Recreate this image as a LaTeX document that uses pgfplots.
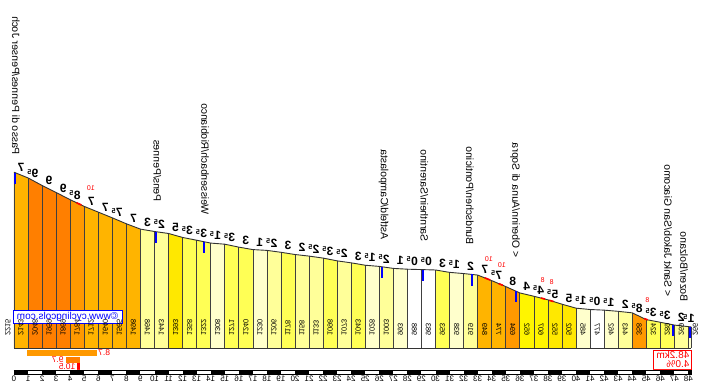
\documentclass[border=0pt]{standalone}
\usepackage{pgfplots}
\pgfplotsset{compat=1.18}
\usepackage{pgfplotstable}
\usepackage{fontspec}
\setmainfont{Liberation Sans}
\definecolor{c0}{HTML}{FFFFFF}
\definecolor{c1}{HTML}{FFFFCC}
\definecolor{c2}{HTML}{FFFF99}
\definecolor{c3}{HTML}{FFFF55}
\definecolor{c4}{HTML}{FFF500}
\definecolor{c5}{HTML}{FFE800}
\definecolor{c7}{HTML}{FFB400}
\definecolor{c8}{HTML}{FF9900}
\definecolor{c9}{HTML}{FF7F00}
\definecolor{mkblue}{HTML}{0000FF}
\definecolor{mkred}{HTML}{FF0000}
\tikzset{
  gl/.style={xscale=-1,anchor=base,inner sep=0pt,font=\fontsize{12}{12}\selectfont\bfseries},
  pn/.style={rotate=90,yscale=-1,anchor=west,inner sep=0pt,font=\fontsize{10.4}{10.4}\selectfont},
  rn/.style={xscale=-1,inner sep=0pt,text=mkred,font=\fontsize{7}{7}\selectfont},
  tl/.style={xscale=-1,anchor=north,inner sep=0pt,font=\fontsize{8}{8}\selectfont}}
\newcommand\kb[5]{\addplot[fill=#5, draw=none] coordinates {(#1,0) (#1,#3) (#2,#4) (#2,0)};}
\newcommand\h[1]{#1\rlap{\kern0.4pt\raisebox{3.6pt}{\fontsize{7}{7}\selectfont\bfseries 5}}}
\pgfplotstableread{
x E
0 2215
1 2143
2 2048
3 1959
4 1869
5 1784
6 1712
7 1640
8 1565
9 1498
10 1468
11 1443
12 1393
13 1358
14 1322
15 1308
16 1271
17 1240
18 1230
19 1206
20 1178
21 1158
22 1133
23 1098
24 1073
25 1043
26 1028
27 1003
28 993
29 988
30 983
31 953
32 938
33 919
34 849
35 774
36 694
37 652
38 607
39 552
40 502
41 485
42 477
43 462
44 443
45 358
46 324
47 289
48 269
48.2 266
}\profile
\pgfplotstableread{
x y lab
-0.43 151 2215
0.5 151 2143
1.5 151 2048
2.5 151 1959
3.5 151 1869
4.5 151 1784
5.5 151 1712
6.5 151 1640
7.5 151 1565
8.5 151 1498
9.5 151 1468
10.5 151 1443
11.5 151 1393
12.5 151 1358
13.5 151 1322
14.5 151 1308
15.5 151 1271
16.5 151 1240
17.5 151 1230
18.5 151 1206
19.5 151 1178
20.5 151 1158
21.5 151 1133
22.5 151 1098
23.5 151 1073
24.5 151 1043
25.5 151 1028
26.5 151 1003
27.5 151 993
28.5 151 988
29.5 151 983
30.5 151 953
31.5 151 938
32.5 151 919
33.5 151 849
34.5 151 774
35.5 151 694
36.5 151 652
37.5 151 607
38.5 151 552
39.5 151 502
40.5 151 485
41.5 151 477
42.5 151 462
43.5 151 443
44.5 151 358
45.5 151 324
46.5 151 289
47.5 151 269
48.5 151 266
}\elev
\begin{document}
\begin{tikzpicture}
\begin{axis}[width=705pt,height=388pt,scale only axis,
  xmin=-0.9964,xmax=49.18,ymin=-504,ymax=4385,hide axis,clip=false]
% bars
\kb{0}{1}{2215}{2143}{c7}
\kb{1}{2}{2143}{2048}{c9}
\kb{2}{3}{2048}{1959}{c9}
\kb{3}{4}{1959}{1869}{c9}
\kb{4}{5}{1869}{1784}{c8}
\kb{5}{6}{1784}{1712}{c7}
\kb{6}{7}{1712}{1640}{c7}
\kb{7}{8}{1640}{1565}{c7}
\kb{8}{9}{1565}{1498}{c7}
\kb{9}{10}{1498}{1468}{c2}
\kb{10}{11}{1468}{1443}{c2}
\kb{11}{12}{1443}{1393}{c5}
\kb{12}{13}{1393}{1358}{c3}
\kb{13}{14}{1358}{1322}{c3}
\kb{14}{15}{1322}{1308}{c1}
\kb{15}{16}{1308}{1271}{c3}
\kb{16}{17}{1271}{1240}{c3}
\kb{17}{18}{1240}{1230}{c1}
\kb{18}{19}{1230}{1206}{c2}
\kb{19}{20}{1206}{1178}{c3}
\kb{20}{21}{1178}{1158}{c2}
\kb{21}{22}{1158}{1133}{c2}
\kb{22}{23}{1133}{1098}{c3}
\kb{23}{24}{1098}{1073}{c2}
\kb{24}{25}{1073}{1043}{c3}
\kb{25}{26}{1043}{1028}{c1}
\kb{26}{27}{1028}{1003}{c2}
\kb{27}{28}{1003}{993}{c1}
\kb{28}{29}{993}{988}{c0}
\kb{29}{30}{988}{983}{c0}
\kb{30}{31}{983}{953}{c3}
\kb{31}{32}{953}{938}{c1}
\kb{32}{33}{938}{919}{c2}
\kb{33}{34}{919}{849}{c7}
\kb{34}{35}{849}{774}{c7}
\kb{35}{36}{774}{694}{c8}
\kb{36}{37}{694}{652}{c4}
\kb{37}{38}{652}{607}{c4}
\kb{38}{39}{607}{552}{c5}
\kb{39}{40}{552}{502}{c5}
\kb{40}{41}{502}{485}{c1}
\kb{41}{42}{485}{477}{c0}
\kb{42}{43}{477}{462}{c1}
\kb{43}{44}{462}{443}{c2}
\kb{44}{45}{443}{358}{c8}
\kb{45}{46}{358}{324}{c3}
\kb{46}{47}{324}{289}{c3}
\kb{47}{48}{289}{269}{c2}
\kb{48}{48.2}{269}{266}{c1}
% separators, base, profile
\addplot[ycomb, black!75, line width=0.7pt] table[x=x,y=E] {\profile};
\addplot[black!80, line width=0.8pt] coordinates {(0,0) (48.2,0)};
\addplot[black!80, line width=0.9pt] table[x=x,y=E] {\profile};
% steep spots on the profile
\addplot[mkred, line width=1.6pt] coordinates {(4.45,1831) (4.8,1801)};
\addplot[mkred, line width=1.6pt] coordinates {(33.5,884) (33.9,856)};
\addplot[mkred, line width=1.6pt] coordinates {(34.5,811) (34.8,789)};
\addplot[mkred, line width=1.6pt] coordinates {(37.5,630) (37.8,616)};
\addplot[mkred, line width=1.6pt] coordinates {(38.1,601) (38.4,585)};
\addplot[mkred, line width=1.6pt] coordinates {(44.85,371) (45.1,355)};
% place markers
\addplot[mkblue, line width=2pt] coordinates {(0.07,2211) (0.07,2072)};
\addplot[mkblue, line width=2pt] coordinates {(10.1,1465) (10.1,1325)};
\addplot[mkblue, line width=2pt] coordinates {(13.5,1340) (13.5,1200)};
\addplot[mkblue, line width=2pt] coordinates {(26.2,1023) (26.2,883)};
\addplot[mkblue, line width=2pt] coordinates {(29.1,987) (29.1,847)};
\addplot[mkblue, line width=2pt] coordinates {(32.6,927) (32.6,787)};
\addplot[mkblue, line width=2pt] coordinates {(35.7,718) (35.7,578)};
\addplot[mkblue, line width=2pt] coordinates {(46.9,292) (46.9,152)};
\addplot[mkblue, line width=2pt] coordinates {(48.1,267) (48.1,127)};
% elevation labels
\addplot[draw=none, mark=none, nodes near coords, point meta=explicit symbolic,
  nodes near coords style={rotate=90,yscale=-1,anchor=west,inner sep=0pt,font=\fontsize{7.4}{7.4}\selectfont}]
  table[x=x,y=y,meta=lab] {\elev};
% gradient labels
\node[gl] at (axis cs:0.5,2229) {7};
\node[gl] at (axis cs:1.5,2146) {\h{9}};
\node[gl] at (axis cs:2.5,2054) {9};
\node[gl] at (axis cs:3.5,1964) {9};
\node[gl] at (axis cs:4.5,1877) {\h{8}};
\node[gl] at (axis cs:5.5,1798) {7};
\node[gl] at (axis cs:6.5,1726) {7};
\node[gl] at (axis cs:7.5,1653) {\h{7}};
\node[gl] at (axis cs:8.5,1582) {7};
\node[gl] at (axis cs:9.5,1533) {3};
\node[gl] at (axis cs:10.5,1506) {\h{2}};
\node[gl] at (axis cs:11.5,1468) {5};
\node[gl] at (axis cs:12.5,1426) {\h{3}};
\node[gl] at (axis cs:13.5,1390) {\h{3}};
\node[gl] at (axis cs:14.5,1365) {\h{1}};
\node[gl] at (axis cs:15.5,1340) {\h{3}};
\node[gl] at (axis cs:16.5,1306) {3};
\node[gl] at (axis cs:17.5,1285) {1};
\node[gl] at (axis cs:18.5,1268) {\h{2}};
\node[gl] at (axis cs:19.5,1242) {3};
\node[gl] at (axis cs:20.5,1218) {2};
\node[gl] at (axis cs:21.5,1196) {\h{2}};
\node[gl] at (axis cs:22.5,1166) {\h{3}};
\node[gl] at (axis cs:23.5,1136) {\h{2}};
\node[gl] at (axis cs:24.5,1108) {3};
\node[gl] at (axis cs:25.5,1086) {\h{1}};
\node[gl] at (axis cs:26.5,1066) {\h{2}};
\node[gl] at (axis cs:27.5,1048) {1};
\node[gl] at (axis cs:28.5,1041) {\h{0}};
\node[gl] at (axis cs:29.5,1036) {\h{0}};
\node[gl] at (axis cs:30.5,1018) {3};
\node[gl] at (axis cs:31.5,996) {\h{1}};
\node[gl] at (axis cs:32.5,979) {2};
\node[gl] at (axis cs:33.5,934) {7};
\node[gl] at (axis cs:34.5,862) {\h{7}};
\node[gl] at (axis cs:35.5,784) {8};
\node[gl] at (axis cs:36.5,723) {4};
\node[gl] at (axis cs:37.5,680) {\h{4}};
\node[gl] at (axis cs:38.5,630) {\h{5}};
\node[gl] at (axis cs:39.5,577) {5};
\node[gl] at (axis cs:40.5,544) {\h{1}};
\node[gl] at (axis cs:41.5,531) {\h{0}};
\node[gl] at (axis cs:42.5,520) {\h{1}};
\node[gl] at (axis cs:43.5,503) {2};
\node[gl] at (axis cs:44.5,451) {\h{8}};
\node[gl] at (axis cs:45.5,391) {\h{3}};
\node[gl] at (axis cs:46.5,357) {\h{3}};
\node[gl] at (axis cs:47.5,329) {2};
\node[gl] at (axis cs:48.2,318) {\h{1}};
% max gradients
\node[rn] at (axis cs:5.48,2016) {10};
\node[rn] at (axis cs:33.8,1115) {10};
\node[rn] at (axis cs:34.73,1046) {10};
\node[rn] at (axis cs:37.63,857) {8};
\node[rn] at (axis cs:38.27,835) {8};
\node[rn] at (axis cs:45.08,605) {8};
% place names
\node[pn] at (axis cs:0.14,2430) {Passo di Pennes/Penser Joch};
\node[pn] at (axis cs:10.2,1840) {Pens/Pennes};
\node[pn] at (axis cs:13.6,1676) {Weissenbach/Riobianco};
\node[pn] at (axis cs:26.3,1361) {Astfeld/Campolasta};
\node[pn] at (axis cs:29.2,1336) {Sarnthein/Sarentino};
\node[pn] at (axis cs:32.45,1298) {Bundschen/Ponticino};
\node[pn] at (axis cs:35.66,1134) {< Oberinn/Auna di Sopra};
\node[pn] at (axis cs:46.55,643) {< Sankt Jakob/San Giacomo};
\node[pn] at (axis cs:47.7,580) {Bozen/Bolzano};
% site label
\draw[mkblue, fill=white, line width=0.6pt] (axis cs:-0.07,315) rectangle (axis cs:7.69,479);
\node[xscale=-1, inner sep=0pt, text=mkblue, font=\fontsize{10}{10}\selectfont] at (axis cs:3.81,397) {©www.cyclingcols.com};
% steepest sections
\addplot[fill=c8, draw=none] coordinates {(0.93,-25) (5.9,-25) (5.9,-95) (0.93,-95)};
\addplot[fill=c9, draw=none] coordinates {(3.7,-113) (4.7,-113) (4.7,-183) (3.7,-183)};
\addplot[fill=mkred, draw=none] coordinates {(4.48,-195) (4.7,-195) (4.7,-271) (4.48,-271)};
\node[xscale=-1, inner sep=0pt, anchor=east, text=mkred, font=\fontsize{8.5}{8.5}\selectfont] at (axis cs:5.98,-62) {8.7};
\node[xscale=-1, inner sep=0pt, anchor=west, text=mkred, font=\fontsize{8.5}{8.5}\selectfont] at (axis cs:3.55,-150) {9.7};
\node[xscale=-1, inner sep=0pt, anchor=west, text=mkred, font=\fontsize{8.5}{8.5}\selectfont] at (axis cs:4.38,-233) {10.5};
% distance and average
\draw[mkred, fill=white, line width=0.7pt] (axis cs:45.48,-25) rectangle (axis cs:48.19,-265);
\node[xscale=-1, inner sep=0pt, anchor=west, align=left, text=mkred, font=\fontsize{10}{9}\selectfont] at (axis cs:48.08,-145) {48.2km\\4.0\%};
% km ruler
\addplot[fill=white, draw=black, line width=0.6pt] coordinates {(0,-277) (48.2,-277) (48.2,-328) (0,-328) (0,-277)};
\addplot[black, line width=4pt, dash pattern=on 14.05pt off 14.05pt] coordinates {(0,-302.5) (48.2,-302.5)};
\pgfplotsinvokeforeach{0,...,48}{\node[tl] at (axis cs:#1,-352) {#1};}
\end{axis}
\pgfresetboundingbox
\path[use as bounding box] (current axis.south west) rectangle (current axis.north east);
\end{tikzpicture}
\end{document}
